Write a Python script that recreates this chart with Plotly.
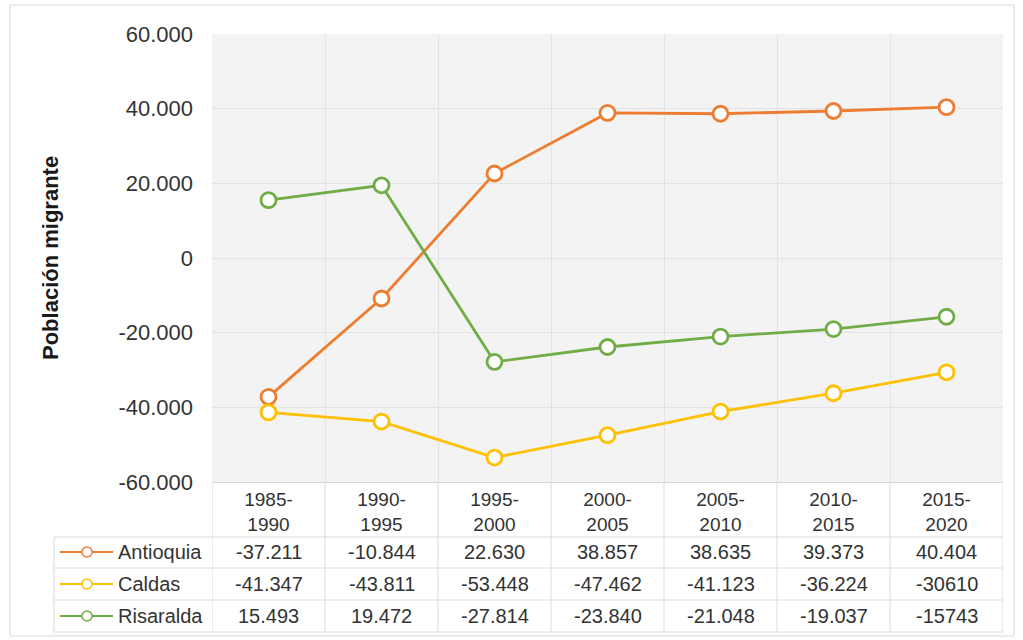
import plotly.graph_objects as go

# ---------------- data ----------------
periods = ["1985-1990", "1990-1995", "1995-2000", "2000-2005", "2005-2010", "2010-2015", "2015-2020"]
period_labels = ["1985-<br>1990", "1990-<br>1995", "1995-<br>2000", "2000-<br>2005",
                 "2005-<br>2010", "2010-<br>2015", "2015-<br>2020"]
series_names = ["Antioquia", "Caldas", "Risaralda"]
antioquia = [-37211, -10844, 22630, 38857, 38635, 39373, 40404]
caldas = [-41347, -43811, -53448, -47462, -41123, -36224, -30610]
risaralda = [15493, 19472, -27814, -23840, -21048, -19037, -15743]
series_colors = ["#ED7D31", "#FFC000", "#70AD47"]
y_tickvals = [-60000, -40000, -20000, 0, 20000, 40000, 60000]
y_ticktext = ["-60.000", "-40.000", "-20.000", "0", "20.000", "40.000", "60.000"]
# cells printed in the source table without thousands separator
unseparated_cells = {("Caldas", 6), ("Risaralda", 6)}

series_values = [antioquia, caldas, risaralda]

# ---------------- layout geometry (pixels) ----------------
W, H = 1023, 640
L, R, T, B = 212, 1003, 34, 482
PW, PH = R - L, B - T


def px(xp):
    return (xp - L) / PW


def py(yp):
    return (B - yp) / PH


def fmt(v, sep=True):
    s = f"{abs(v):,}"
    s = s.replace(",", ".") if sep else s.replace(",", "")
    return ("-" if v < 0 else "") + s


TXT = "#333333"
GRID = "#d9d9d9"
FONT = "Liberation Sans, Arial, sans-serif"

fig = go.Figure()
for name, vals, col in zip(series_names, series_values, series_colors):
    fig.add_trace(go.Scatter(
        x=periods, y=vals, name=name, mode="lines+markers",
        line=dict(color=col, width=2.8),
        marker=dict(size=15, color="white", line=dict(color=col, width=2.8)),
        showlegend=False,
    ))

shapes = []
annotations = []

# outer frame
shapes.append(dict(type="rect", xref="paper", yref="paper",
                   x0=px(10), x1=px(1014), y0=py(636), y1=py(5),
                   line=dict(color=GRID, width=1), fillcolor="rgba(0,0,0,0)", layer="below"))

# table vertical lines at category boundaries
for i in range(len(periods) + 1):
    shapes.append(dict(type="line", xref="x", yref="paper",
                       x0=i - 0.5, x1=i - 0.5, y0=py(632), y1=py(482),
                       line=dict(color=GRID, width=1)))
# table horizontal lines
for yy in [537, 568, 600, 632]:
    shapes.append(dict(type="line", xref="paper", yref="paper",
                       x0=px(54), x1=1, y0=py(yy), y1=py(yy),
                       line=dict(color=GRID, width=1)))
# table left edge
shapes.append(dict(type="line", xref="paper", yref="paper",
                   x0=px(54), x1=px(54), y0=py(632), y1=py(537),
                   line=dict(color=GRID, width=1)))

row_centers = [552, 584, 616]
for (name, vals, col, rc) in zip(series_names, series_values, series_colors, row_centers):
    # legend key
    shapes.append(dict(type="line", xref="paper", yref="paper",
                       x0=px(60), x1=px(113), y0=py(rc), y1=py(rc),
                       line=dict(color=col, width=2)))
    shapes.append(dict(type="circle", xref="paper", yref="paper",
                       x0=px(82), x1=px(92), y0=py(rc + 5), y1=py(rc - 5),
                       line=dict(color=col, width=1.5), fillcolor="white"))
    annotations.append(dict(text=name, xref="paper", yref="paper",
                            x=px(116), y=py(rc), xanchor="left", yanchor="middle",
                            showarrow=False, font=dict(size=20, color=TXT, family=FONT)))
    for j, (p, v) in enumerate(zip(periods, vals)):
        annotations.append(dict(text=fmt(v, (name, j) not in unseparated_cells),
                                xref="x", yref="paper", x=p, y=py(rc),
                                xanchor="center", yanchor="middle", showarrow=False,
                                font=dict(size=20, color=TXT, family=FONT)))

# y-axis title
annotations.append(dict(text="<b>Población migrante</b>", xref="paper", yref="paper",
                        x=px(50), y=py(258), textangle=-90, showarrow=False,
                        xanchor="center", yanchor="middle",
                        font=dict(size=22, color="#1a1a1a", family=FONT)))

fig.update_layout(
    width=W, height=H,
    margin=dict(l=L, r=W - R, t=T, b=H - B, pad=0),
    paper_bgcolor="white", plot_bgcolor="#f3f3f3",
    font=dict(family=FONT, color=TXT),
    shapes=shapes, annotations=annotations,
    xaxis=dict(type="category", categoryorder="array", categoryarray=periods,
               range=[-0.5, len(periods) - 0.5],
               tickvals=periods, ticktext=period_labels, tickson="boundaries",
               showgrid=True, gridcolor="#e3e3e3", gridwidth=1,
               ticks="", tickfont=dict(size=19, color=TXT, family=FONT),
               ticklabelstandoff=0,
               showline=True, linecolor=GRID, zeroline=False),
    yaxis=dict(range=[-60000, 60000], tickvals=y_tickvals, ticktext=y_ticktext,
               showgrid=True, gridcolor="#e3e3e3", gridwidth=1, zeroline=False,
               ticks="", tickfont=dict(size=22, color=TXT, family=FONT),
               ticklabelstandoff=18, showline=False),
)

fig.write_html("out.html", config={"displayModeBar": False},
               post_script="document.body.style.margin='0';document.body.style.overflow='hidden';")
